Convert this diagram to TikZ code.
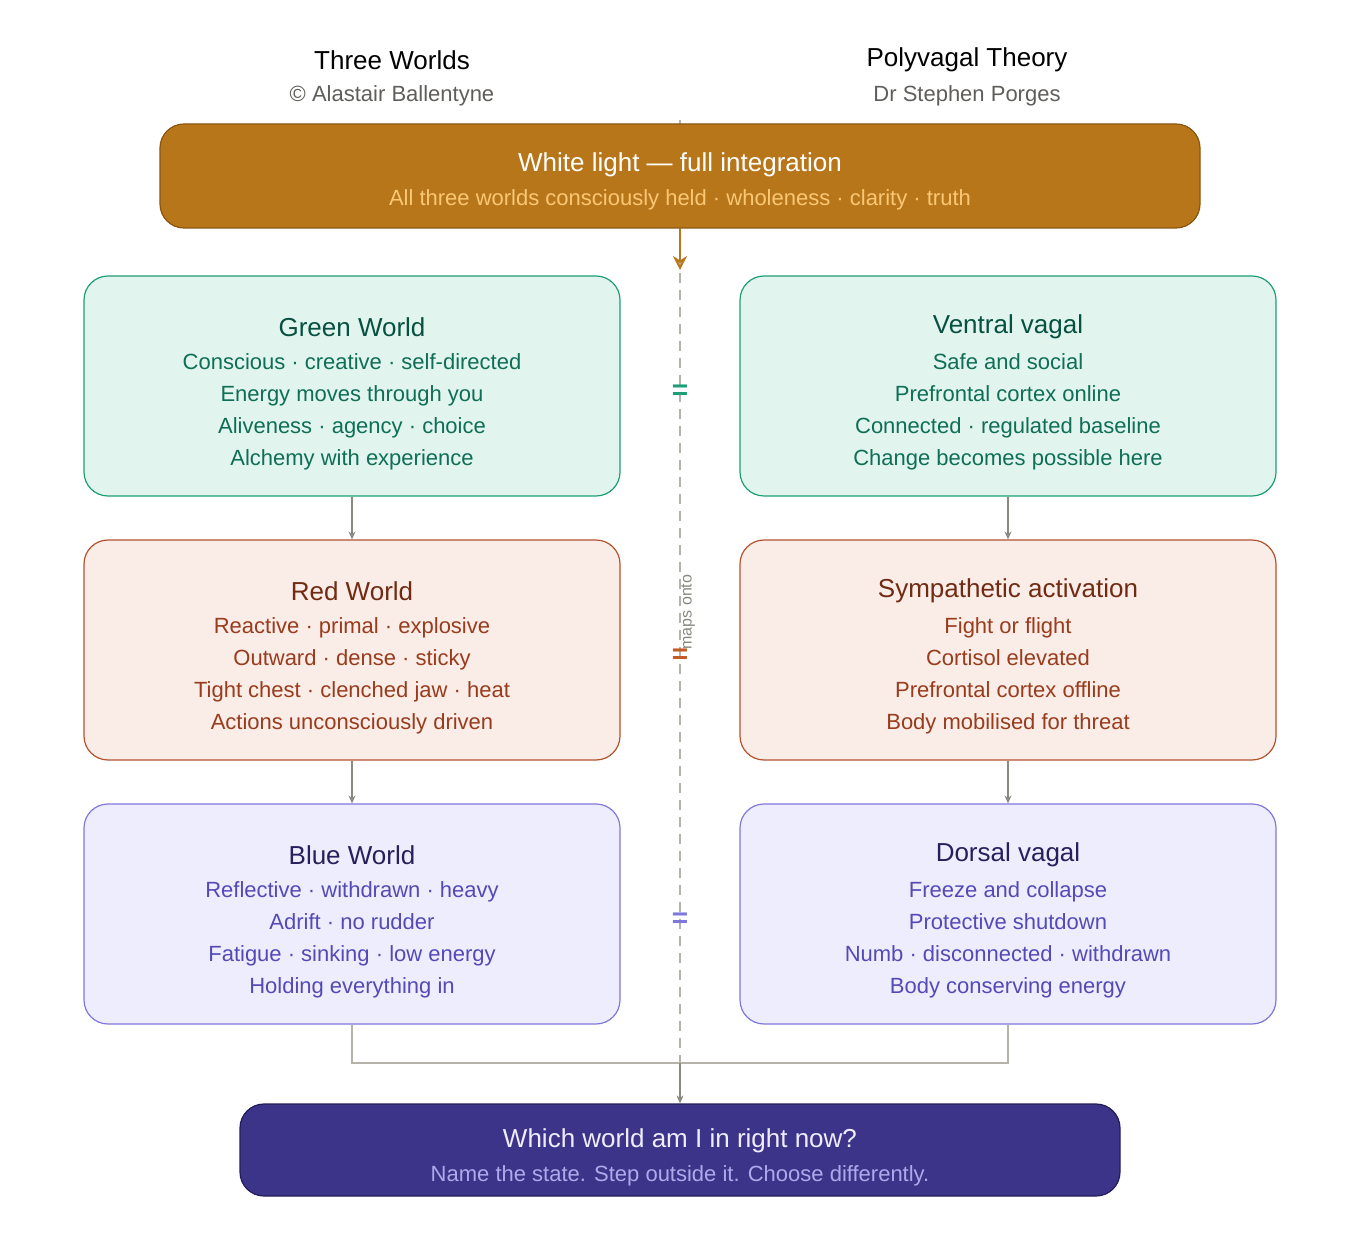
\documentclass[tikz,border=0pt]{standalone}
\usepackage{fontspec}
\setmainfont{Liberation Sans}
\usetikzlibrary{arrows.meta}
\definecolor{goldfill}{HTML}{B8761A}
\definecolor{golddraw}{HTML}{8A5510}
\definecolor{goldsub}{HTML}{FAC775}
\definecolor{greenfill}{HTML}{E1F5EE}
\definecolor{greendraw}{HTML}{1D9E75}
\definecolor{greenhead}{HTML}{085041}
\definecolor{greentext}{HTML}{0F6E56}
\definecolor{redfill}{HTML}{FAECE7}
\definecolor{reddraw}{HTML}{B5522E}
\definecolor{redhead}{HTML}{712B13}
\definecolor{redtext}{HTML}{993C1D}
\definecolor{bluefill}{HTML}{EEEDFE}
\definecolor{bluedraw}{HTML}{7F77DD}
\definecolor{bluehead}{HTML}{26215C}
\definecolor{bluetext}{HTML}{534AB7}
\definecolor{navyfill}{HTML}{3C3489}
\definecolor{navydraw}{HTML}{221D5A}
\definecolor{navysub}{HTML}{AFA9EC}
\definecolor{linegray}{HTML}{B4B2A9}
\definecolor{arrowgray}{HTML}{888780}
\definecolor{subgray}{HTML}{5F5E5A}
\tikzset{
  box/.style={draw, rounded corners=12pt, line width=0.6pt, minimum width=268pt, minimum height=110pt},
  head/.style={font=\fontsize{13}{16}\selectfont},
  body/.style={font=\fontsize{11}{16}\selectfont, align=center},
  flow/.style={-{Stealth[length=4pt,width=3.5pt,open]}, arrowgray, line width=0.6pt},
  eq/.style={font=\fontsize{14}{16}\selectfont\bfseries},
}
\begin{document}
\begin{tikzpicture}[x=0.5pt,y=-0.5pt]
    \useasboundingbox (0,0) rectangle (1360,1240);

    % column headings
    \node[font=\fontsize{13}{16}\selectfont] (lhead) at (392,60) {Three Worlds};
    \node[font=\fontsize{11}{14}\selectfont, subgray] (lsub) at (392,96) {© Alastair Ballentyne};
    \node[font=\fontsize{13}{16}\selectfont] (rhead) at (967,60) {Polyvagal Theory};
    \node[font=\fontsize{11}{14}\selectfont, subgray] (rsub) at (967,96) {Dr Stephen Porges};

    % centre divider
    \coordinate (divtop) at (680,120);
    \coordinate (divbot) at (680,1100);
    \draw[linegray, dashed, dash pattern=on 5pt off 3.5pt, line width=0.7pt] (divtop) -- (divbot);

    % top box
    \node[box, fill=goldfill, draw=golddraw, minimum width=520pt, minimum height=52pt] (top) at (680,176) {};
    \node[head, white] at (680,165) {White light — full integration};
    \node[body, goldsub] at (680,200) {All three worlds consciously held · wholeness · clarity · truth};

    % green row
    \node[box, fill=greenfill, draw=greendraw] (green) at (352,386) {};
    \node[box, fill=greenfill, draw=greendraw] (ventral) at (1008,386) {};
    \node[head, greenhead] at (352,327) {Green World};
    \node[body, greentext, anchor=north] at (352,346) {Conscious · creative · self-directed\\Energy moves through you\\Aliveness · agency · choice\\Alchemy with experience};
    \node[head, greenhead] at (1008,327) {Ventral vagal};
    \node[body, greentext, anchor=north] at (1008,346) {Safe and social\\Prefrontal cortex online\\Connected · regulated baseline\\Change becomes possible here};

    % red row
    \node[box, fill=redfill, draw=reddraw] (red) at (352,650) {};
    \node[box, fill=redfill, draw=reddraw] (symp) at (1008,650) {};
    \node[head, redhead] at (352,591) {Red World};
    \node[body, redtext, anchor=north] at (352,610) {Reactive · primal · explosive\\Outward · dense · sticky\\Tight chest · clenched jaw · heat\\Actions unconsciously driven};
    \node[head, redhead] at (1008,591) {Sympathetic activation};
    \node[body, redtext, anchor=north] at (1008,610) {Fight or flight\\Cortisol elevated\\Prefrontal cortex offline\\Body mobilised for threat};

    % blue row
    \node[box, fill=bluefill, draw=bluedraw] (blue) at (352,914) {};
    \node[box, fill=bluefill, draw=bluedraw] (dorsal) at (1008,914) {};
    \node[head, bluehead] at (352,855) {Blue World};
    \node[body, bluetext, anchor=north] at (352,874) {Reflective · withdrawn · heavy\\Adrift · no rudder\\Fatigue · sinking · low energy\\Holding everything in};
    \node[head, bluehead] at (1008,855) {Dorsal vagal};
    \node[body, bluetext, anchor=north] at (1008,874) {Freeze and collapse\\Protective shutdown\\Numb · disconnected · withdrawn\\Body conserving energy};

    % bottom box
    \node[box, fill=navyfill, draw=navydraw, minimum width=440pt, minimum height=46pt] (ask) at (680,1150) {};
    \node[head, bluefill] at (680,1141) {Which world am I in right now?};
    \node[body, navysub] at (680,1176) {Name the state. Step outside it. Choose differently.};

    % equals marks and label
    \node[eq, greendraw] (eqg) at (680,392) {=};
    \node[eq, reddraw!80!orange] (eqr) at (680,656) {=};
    \node[eq, bluedraw] (eqb) at (680,920) {=};
    \node[font=\fontsize{8}{10}\selectfont, arrowgray, rotate=90] (maps) at (688,612) {maps onto};

    % arrows
    \coordinate (toparr) at (680,270);
    \draw[-{Stealth[length=7pt,width=7pt,open]}, goldfill, line width=1pt] (top.south) -- (toparr);
    \draw[flow] (green) -- (red);
    \draw[flow] (red) -- (blue);
    \draw[flow] (ventral) -- (symp);
    \draw[flow] (symp) -- (dorsal);
    \coordinate (join) at (680,1063);
    \draw[linegray, line width=0.7pt] (blue.south) |- (join) -| (dorsal.south);
    \draw[flow] (join) -- (ask.north);

\end{tikzpicture}
\end{document}
